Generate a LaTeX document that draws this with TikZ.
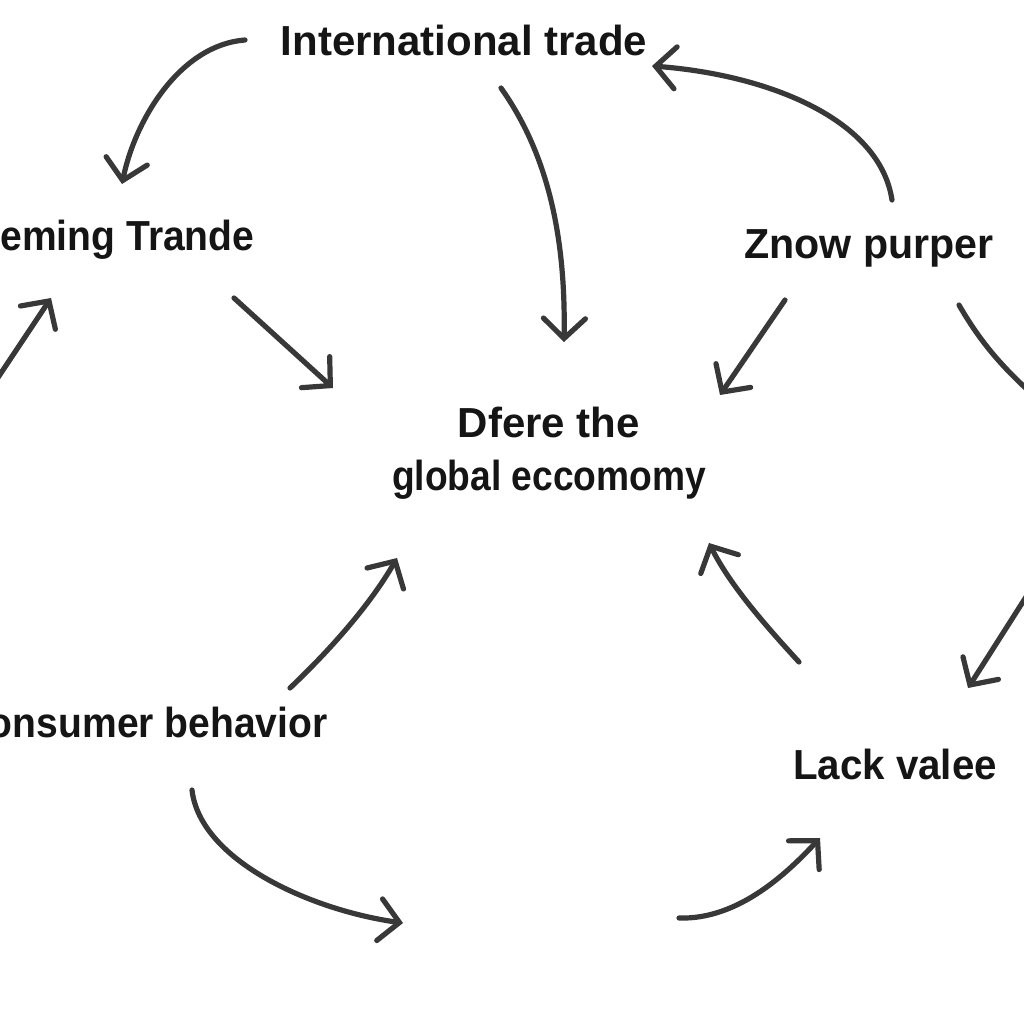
\documentclass[tikz,border=0pt]{standalone}
\usepackage{fontspec}
\setmainfont{Liberation Sans}
\usetikzlibrary{arrows.meta}
\definecolor{ink}{HTML}{151515}
\definecolor{arrowgray}{HTML}{383838}
\newcommand{\hsq}[2]{\scalebox{#1}[1]{#2}}
\tikzset{
  lbl/.style={text=ink, font=\fontsize{21}{26.5}\selectfont\bfseries, inner sep=0pt, align=center},
  arr/.style={draw=arrowgray, line width=2.6pt, line cap=round, line join=round,
    -{Straight Barb[length=10pt,width=21pt,line width=2.6pt,line cap=round]}},
  plain/.style={draw=arrowgray, line width=2.6pt, line cap=round}
}
\begin{document}
\begin{tikzpicture}[x=0.5pt,y=-0.5pt]
\useasboundingbox (0,0) rectangle (1024,1024);
\fill[white] (0,0) rectangle (1024,1024);
\clip (0,0) rectangle (1024,1024);
% labels
\node[lbl] (it) at (464,40) {International trade};
\node[lbl, anchor=west] (et) at (0,240) {\hsq{0.93}{eming Trande}};
\node[lbl] (zp) at (869,248) {\hsq{0.98}{Znow purper}};
\node[lbl] (ge) at (549,453) {Dfere the\\\hsq{0.885}{global eccomomy}};
\node[lbl, anchor=east] (cb) at (328,722) {\hsq{0.93}{onsumer behavior}};
\node[lbl] (lv) at (895,764) {\hsq{0.96}{Lack valee}};
% connector end points
\coordinate (a1s) at (245,40);   \coordinate (a1e) at (122,184);
\coordinate (a2s) at (-5,382);   \coordinate (a2e) at (51,298);
\coordinate (a3s) at (234,298);  \coordinate (a3e) at (333,388);
\coordinate (a4s) at (501,88);   \coordinate (a4e) at (564,342);
\coordinate (a5s) at (892,200);  \coordinate (a5e) at (652,66);
\coordinate (a6s) at (785,300);  \coordinate (a6e) at (720,395);
\coordinate (a7s) at (959,305);  \coordinate (a7e) at (1050,410);
\coordinate (a8s) at (1040,575); \coordinate (a8e) at (968,688);
\coordinate (a9s) at (799,662);  \coordinate (a9e) at (709,543);
\coordinate (a10s) at (290,688); \coordinate (a10e) at (397,558);
\coordinate (a11s) at (192,790); \coordinate (a11e) at (403,923);
\coordinate (a12s) at (679,918); \coordinate (a12e) at (820,838);
% connectors
\draw[arr] (a1s) .. controls (180,45) and (135,120) .. (a1e);
\draw[arr] (a2s) -- (a2e);
\draw[arr] (a3s) -- (a3e);
\draw[arr] (a4s) .. controls (545,150) and (566,230) .. (a4e);
\draw[arr] (a5s) .. controls (880,120) and (770,75) .. (a5e);
\draw[arr] (a6s) -- (a6e);
\draw[plain] (a7s) .. controls (985,350) and (1010,375) .. (a7e);
\draw[arr] (a8s) -- (a8e);
\draw[arr] (a9s) .. controls (765,625) and (730,585) .. (a9e);
\draw[arr] (a10s) .. controls (330,650) and (370,605) .. (a10e);
\draw[arr] (a11s) .. controls (200,860) and (310,910) .. (a11e);
\draw[arr] (a12s) .. controls (740,920) and (790,870) .. (a12e);
\end{tikzpicture}
\end{document}
